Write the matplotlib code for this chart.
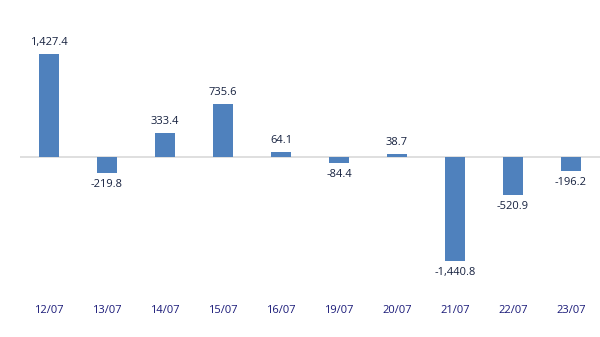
import numpy as np
import matplotlib.pyplot as plt

dates = ['12/07', '13/07', '14/07', '15/07', '16/07', '19/07', '20/07', '21/07', '22/07', '23/07']
values = [1427.4, -219.8, 333.4, 735.6, 64.1, -84.4, 38.7, -1440.8, -520.9, -196.2]

bar_color = '#4f81bd'
label_color = '#16213f'
tick_color = '#1a1a78'

fig = plt.figure(figsize=(6, 3.37), dpi=100)
ax = fig.add_axes([20/600, 37/337, 580/600, 300/337])

x = np.arange(len(dates))
ax.bar(x, values, width=0.33, color=bar_color, zorder=2)
ax.axhline(0, color='#d9d9d9', lw=1.2, zorder=1)

for xi, v in zip(x, values):
    txt = f'{v:,.1f}'
    if v >= 0:
        ax.annotate(txt, (xi, v), xytext=(0, 4.5), textcoords='offset points',
                    ha='center', va='bottom', fontsize=8, color=label_color,
                    family='Open Sans')
    else:
        ax.annotate(txt, (xi, v), xytext=(0, -4.5), textcoords='offset points',
                    ha='center', va='top', fontsize=8, color=label_color,
                    family='Open Sans')

ax.set_xlim(-0.5, len(dates) - 0.5)
ax.set_ylim(-1981, 2175)
ax.set_xticks(x)
ax.set_xticklabels(dates, fontsize=8, color=tick_color, family='Open Sans')
ax.tick_params(axis='x', length=0, pad=3.5)
ax.set_yticks([])
for s in ax.spines.values():
    s.set_visible(False)

fig.savefig('out.png', dpi=100)
